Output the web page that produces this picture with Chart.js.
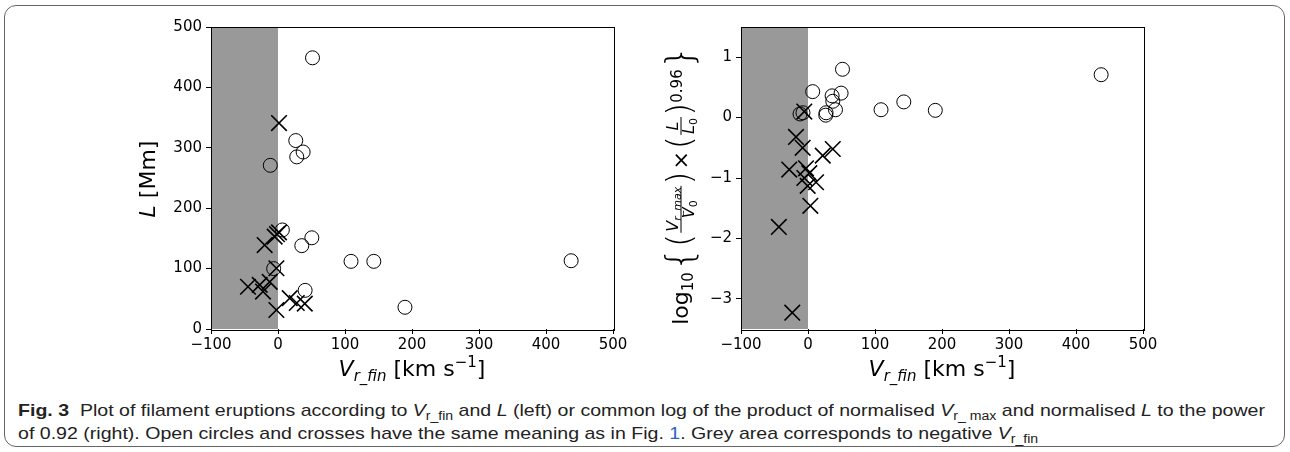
<!DOCTYPE html>
<html>
<head>
<meta charset="utf-8">
<script src="https://cdn.jsdelivr.net/npm/chart.js@4.4.1/dist/chart.umd.min.js"></script>
<style>
  html,body{margin:0;padding:0;background:#fff;}
  body{width:1290px;height:452px;position:relative;overflow:hidden;}
  #frame{position:absolute;left:4px;top:5px;width:1281px;height:442px;border:1px solid #666;border-radius:12px;box-sizing:border-box;}
  canvas{position:absolute;top:0;}
  #c1{left:0;}
  #c2{left:530px;}
  #cap{position:absolute;left:18px;top:400px;font-family:'Liberation Sans Narrow','Liberation Sans',sans-serif;font-size:17px;line-height:22px;color:#222;white-space:nowrap;transform-origin:0 0;}
  #cap div{display:inline-block;}
  #cap i{font-style:italic;}
  #cap .s{font-size:0.72em;position:relative;top:0.3em;}
  #cap .lnk{color:#2a62c9;}
</style>
</head>
<body>
<div id="frame"></div>
<canvas id="c1" width="645" height="395"></canvas>
<canvas id="c2" width="645" height="395"></canvas>
<div id="cap"><div id="l1"><b>Fig. 3</b>&nbsp; Plot of filament eruptions according to <i>V</i><span class="s">r_fin</span> and <i>L</i> (left) or common log of the product of normalised <i>V</i><span class="s">r_ max</span> and normalised <i>L</i> to the power</div><br><div id="l2">of 0.92 (right). Open circles and crosses have the same meaning as in Fig. <span class="lnk">1</span>. Grey area corresponds to negative <i>V</i><span class="s">r_fin</span></div></div>
<script>
// ---- data ----
const xTicks = [-100, 0, 100, 200, 300, 400, 500];
const leftYTicks = [0, 100, 200, 300, 400, 500];
const rightYTicks = [-3, -2, -1, 0, 1];

// Left panel: V_r_fin vs L
const leftCircleX = [51.5, 26.5, 37.5, 28, -11.5, 6.5, 50.5, 35.5, 109, 143, 437.5, -6.5, 40.5, 189.5];
const leftCircleY = [449, 312, 293, 285, 271, 164, 151, 138, 112, 112, 113, 100, 64, 36];
const leftCrossX = [1.5, -5, -1.5, 1.5, -19.9, -2.4, -44.8, -27.3, -22.4, -12.4, -2.4, 17.5, 28, 40];
const leftCrossY = [341, 153, 157, 160, 139, 100.6, 70, 73, 62, 78, 31.5, 51, 43, 42];

// Right panel: V_r_fin vs log10 product
const rightCircleX = [51.5, 437.5, 7, 36, 49.4, 37, 41, 27, 26.5, -11.9, -7.5, 109, 143, 190];
const rightCircleY = [0.8, 0.71, 0.43, 0.36, 0.405, 0.27, 0.13, 0.08, 0.04, 0.06, 0.08, 0.13, 0.26, 0.12];
const rightCrossX = [-5.5, -17.9, -8, 37, 22, -28, -3, 2, -5.5, 12, -0.5, 3.5, -43.5, -23.5];
const rightCrossY = [0.1, -0.32, -0.5, -0.52, -0.63, -0.86, -0.84, -0.92, -1.0, -1.07, -1.13, -1.46, -1.81, -3.23];

const shadeFrom = -100, shadeTo = 0;

// ---- helpers ----
const FAM = "'DejaVu Sans'";
const minus = v => String(v).replace('-', '\u2212');
const pts = (xs, ys) => xs.map((x, i) => ({x: x, y: ys[i]}));

function measurePieces(ctx, pieces) {
  let w = 0;
  pieces.forEach(p => {
    if (p.frac) {
      const nw = measurePieces(ctx, p.num), dw = measurePieces(ctx, p.den);
      p.w = Math.max(nw, dw) + 4; p.nw = nw; p.dw = dw;
    } else {
      ctx.font = p.f; p.w = ctx.measureText(p.t).width;
    }
    w += p.w + (p.gap || 0);
  });
  return w;
}
function drawPieces(ctx, pieces, x0, y0) {
  let x = x0;
  pieces.forEach(p => {
    if (p.frac) {
      drawPieces(ctx, p.num, x + (p.w - p.nw) / 2, y0 + p.numDy);
      drawPieces(ctx, p.den, x + (p.w - p.dw) / 2, y0 + p.denDy);
      ctx.fillRect(x + 1, y0 + p.barDy - 0.5, p.w - 2, 1);
    } else {
      ctx.font = p.f;
      ctx.fillText(p.t, x, y0 + (p.dy || 0));
    }
    x += p.w + (p.gap || 0);
  });
}
function drawRich(ctx, pieces, cx, base, rot) {
  ctx.save();
  ctx.fillStyle = '#000';
  ctx.textBaseline = 'alphabetic';
  ctx.textAlign = 'left';
  const w = measurePieces(ctx, pieces);
  ctx.translate(cx, base);
  if (rot) ctx.rotate(-Math.PI / 2);
  drawPieces(ctx, pieces, -w / 2, 0);
  ctx.restore();
}

const F22 = `22px ${FAM}`, I22 = `italic 22px ${FAM}`, F15 = `15px ${FAM}`, I15 = `italic 15px ${FAM}`;
const xTitle = [
  {t: 'V', f: I22},
  {t: 'r_fin', f: I15, dy: 5},
  {t: ' [km s', f: F22},
  {t: '\u22121', f: F15, dy: -9},
  {t: ']', f: F22}
];
const leftYTitle = [{t: 'L', f: I22}, {t: ' [Mm]', f: F22}];
const I16 = `italic 16px ${FAM}`, I11 = `italic 11px ${FAM}`, F11 = `11px ${FAM}`;
const DL = `200 34px ${FAM}`, BR = `200 38px ${FAM}`;
const rightYTitle = [
  {t: 'log', f: F22},
  {t: '10', f: F15, dy: 5, gap: 1},
  {t: '{', f: BR, dy: 4},
  {t: '(', f: DL, dy: 3},
  {frac: true, num: [{t: 'V', f: I16}, {t: 'r_max', f: I11, dy: 3}], den: [{t: 'V', f: I16}, {t: '0', f: F11, dy: 3}], numDy: -10, denDy: 6, barDy: -7},
  {t: ')', f: DL, dy: 3, gap: 2},
  {t: '\u00d7', f: F22, gap: 2},
  {t: '(', f: DL, dy: 3},
  {frac: true, num: [{t: 'L', f: I16}], den: [{t: 'L', f: I16}, {t: '0', f: F11, dy: 3}], numDy: -10, denDy: 6, barDy: -7},
  {t: ')', f: DL, dy: 3},
  {t: '0.96', f: F15, dy: -6},
  {t: '}', f: BR, dy: 4}
];

const panelPlugin = {
  id: 'panel',
  beforeDatasetsDraw(chart) {
    const {ctx, chartArea: a, scales} = chart;
    const x0 = scales.x.getPixelForValue(shadeFrom), x1 = scales.x.getPixelForValue(shadeTo);
    ctx.save();
    ctx.fillStyle = '#999999';
    ctx.fillRect(x0, a.top, x1 - x0, a.bottom - a.top);
    ctx.restore();
  },
  afterDatasetsDraw(chart, args, opts) {
    const {ctx, chartArea: a} = chart;
    ctx.save();
    ctx.strokeStyle = '#000';
    ctx.lineWidth = 1;
    ctx.strokeRect(Math.round(a.left) + 0.5, Math.round(a.top) + 0.5, Math.round(a.right - a.left) + 1, Math.round(a.bottom - a.top) + 1);
    ctx.restore();
    const cx = (a.left + a.right) / 2;
    drawRich(ctx, xTitle, cx, 376, false);
    if (opts.which === 'left') {
      drawRich(ctx, leftYTitle, 155, (a.top + a.bottom) / 2 + 1, true);
    } else {
      drawRich(ctx, rightYTitle, 688 - 530, 185, true);
    }
  }
};

function scales(ymin, ymax, yTicks) {
  const common = {
    type: 'linear',
    grid: {display: true, drawOnChartArea: false, drawTicks: true, tickLength: 5, color: '#000', tickColor: '#000', lineWidth: 1},
    border: {display: false},
    ticks: {font: {family: 'DejaVu Sans', size: 15}, color: '#000', autoSkip: false, maxRotation: 0, callback: v => minus(v)}
  };
  return {
    x: Object.assign({}, common, {
      min: -100, max: 500,
      afterBuildTicks: s => { s.ticks = xTicks.map(v => ({value: v})); },
      afterFit: s => { s.height = 66; },
      ticks: Object.assign({}, common.ticks, {padding: 2})
    }),
    y: Object.assign({}, common, {
      min: ymin, max: ymax,
      afterBuildTicks: s => { s.ticks = yTicks.map(v => ({value: v})); },
      afterFit: s => { s.width = 211; },
      ticks: Object.assign({}, common.ticks, {padding: 4})
    })
  };
}

function makeChart(id, which, circles, crosses, ymin, ymax, yTicks) {
  return new Chart(document.getElementById(id), {
    type: 'scatter',
    data: {
      datasets: [
        {data: circles, pointStyle: 'circle', pointRadius: 7, borderColor: '#000', backgroundColor: 'rgba(0,0,0,0)', borderWidth: 1},
        {data: crosses, pointStyle: 'crossRot', pointRadius: 11, borderColor: '#000', backgroundColor: '#000', borderWidth: 1.6}
      ]
    },
    options: {
      responsive: false,
      devicePixelRatio: 1,
      animation: false,
      layout: {padding: {top: 27, right: 32, bottom: 0, left: 0}},
      plugins: {legend: {display: false}, tooltip: {enabled: false}, panel: {which: which}},
      scales: scales(ymin, ymax, yTicks)
    },
    plugins: [panelPlugin]
  });
}

makeChart('c1', 'left', pts(leftCircleX, leftCircleY), pts(leftCrossX, leftCrossY), 0, 500, leftYTicks);
makeChart('c2', 'right', pts(rightCircleX, rightCircleY), pts(rightCrossX, rightCrossY), -3.5, 1.5, rightYTicks);

// fit caption line 1 to the reference width (18 px -> 1265 px)
const cap = document.getElementById('cap');
const w1 = document.getElementById('l1').getBoundingClientRect().width;
cap.style.transform = `scaleX(${1247 / w1})`;
</script>
</body>
</html>
